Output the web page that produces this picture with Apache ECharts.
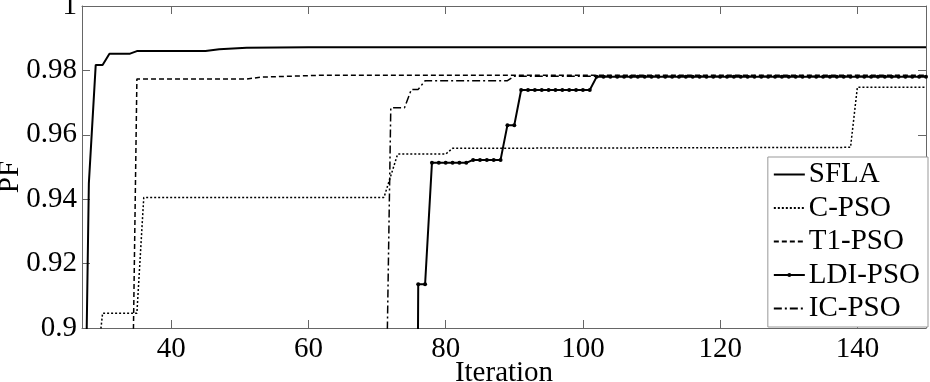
<!DOCTYPE html>
<html>
<head>
<meta charset="utf-8">
<script src="https://cdn.jsdelivr.net/npm/echarts@6/dist/echarts.min.js"></script>
<style>
html, body { margin: 0; padding: 0; background: #fff; }
#chartDiv { width: 930px; height: 382px; }
</style>
</head>
<body>
<div id="chartDiv"></div>
<script>
var xTicks = [40, 60, 80, 100, 120, 140];

// [iteration, PF] break points
var sfla = [[27, 0.80], [28, 0.945], [29, 0.9817], [30, 0.9817], [31, 0.9852], [34, 0.9852], [35, 0.986],
	[45, 0.986], [47, 0.9866], [51, 0.9870], [60, 0.9872], [150, 0.9872]];
var cpso = [[29, 0.885], [30, 0.9046], [35, 0.9046], [36, 0.9405], [71, 0.9405], [73, 0.954], [80, 0.954],
	[81, 0.9558], [139, 0.9561], [140, 0.9748], [150, 0.9748]];
var t1pso = [[34, 0.8227], [35, 0.9773], [51, 0.9773], [53, 0.9779], [62, 0.9785], [150, 0.9785]];
var icpso = [[71, 0.83], [72, 0.9684], [74, 0.9684], [75, 0.9741], [76, 0.9741], [77, 0.9768], [89, 0.9768],
	[90, 0.9782], [150, 0.9782]];

// LDI-PSO, one value per iteration from 75 to 150
var ldiStart = 75;
var ldiPF = [
	0.5, 0.9136, 0.9136,
	0.9513, 0.9513, 0.9513, 0.9513, 0.9513, 0.9513,
	0.9522, 0.9522, 0.9522, 0.9522, 0.9522,
	0.9630, 0.9630,
	0.9739, 0.9739, 0.9739, 0.9739, 0.9739, 0.9739, 0.9739, 0.9739, 0.9739, 0.9739, 0.9739,
	0.978, 0.978, 0.978, 0.978, 0.978, 0.978, 0.978, 0.978, 0.978, 0.978,
	0.978, 0.978, 0.978, 0.978, 0.978, 0.978, 0.978, 0.978, 0.978, 0.978,
	0.978, 0.978, 0.978, 0.978, 0.978, 0.978, 0.978, 0.978, 0.978, 0.978,
	0.978, 0.978, 0.978, 0.978, 0.978, 0.978, 0.978, 0.978, 0.978, 0.978,
	0.978, 0.978, 0.978, 0.978, 0.978, 0.978, 0.978, 0.978, 0.978
];

var ldi = [];
for (var i = 0; i < ldiPF.length; i++) {
	ldi.push([ldiStart + i, ldiPF[i]]);
}

var font = 'Liberation Serif';
var axisColor = '#666';

var chart = echarts.init(document.getElementById('chartDiv'));

function boxAxis(pos) {
	return {
		type : 'value',
		position : pos,
		min : 27,
		max : 150,
		axisLine : { show : true, lineStyle : { color : axisColor, width : 1 } },
		axisTick : { show : true, inside : true, length : 8, customValues : xTicks, lineStyle : { color : axisColor } },
		axisLabel : { show : false, customValues : xTicks },
		splitLine : { show : false }
	};
}

var xBottom = boxAxis('bottom');
xBottom.axisLabel = { show : true, customValues : xTicks, margin : 7, color : '#000', fontFamily : font, fontSize : 29 };
xBottom.name = 'Iteration';
xBottom.nameLocation = 'middle';
xBottom.nameGap = 31;
xBottom.nameMoveOverlap = false;
xBottom.nameTextStyle = { color : '#000', fontFamily : font, fontSize : 29 };
var xTop = boxAxis('top');

function yBox(pos) {
	return {
		type : 'value',
		position : pos,
		min : 0.9,
		max : 1,
		interval : 0.02,
		axisLine : { show : true, lineStyle : { color : axisColor, width : 1 } },
		axisTick : { show : true, inside : true, length : 8, lineStyle : { color : axisColor } },
		axisLabel : { show : false },
		splitLine : { show : false }
	};
}
var yLeft = yBox('left');
yLeft.axisLabel = { show : true, margin : 5, color : '#000', fontFamily : font, fontSize : 29 };
yLeft.name = 'PF';
yLeft.nameLocation = 'middle';
yLeft.nameGap = 57;
yLeft.nameMoveOverlap = false;
yLeft.nameTextStyle = { color : '#000', fontFamily : font, fontSize : 29, padding : [0, 20, 0, 0] };
var yRight = yBox('right');

function lineSeries(name, data, width, type) {
	return {
		name : name,
		type : 'line',
		data : data,
		symbol : 'none',
		animation : false,
		lineStyle : { color : '#000', width : width, type : type },
		itemStyle : { color : '#000' }
	};
}

var ldiSeries = lineSeries('LDI-PSO', ldi, 2, 'solid');
ldiSeries.symbol = 'circle';
ldiSeries.symbolSize = 4;
ldiSeries.showAllSymbol = true;

var noDot = { color : 'transparent' };

chart.setOption({
	backgroundColor : '#fff',
	animation : false,
	grid : { left : 82, right : 4, top : 6, bottom : 54, outerBoundsMode : 'none', containLabel : false },
	xAxis : [xBottom, xTop],
	yAxis : [yLeft, yRight],
	legend : {
		orient : 'vertical',
		right : 2,
		top : 157,
		padding : [3, 8, 4, 5],
		itemWidth : 31,
		itemHeight : 5,
		itemGap : 4.5,
		borderColor : '#999',
		borderWidth : 1,
		borderRadius : 0,
		backgroundColor : '#fff',
		textStyle : { color : '#000', fontFamily : font, fontSize : 29, lineHeight : 29, padding : [0, 0, 0, -1] },
		data : [
			{ name : 'SFLA', itemStyle : noDot },
			{ name : 'C-PSO', itemStyle : noDot },
			{ name : 'T1-PSO', itemStyle : noDot },
			{ name : 'LDI-PSO' },
			{ name : 'IC-PSO', itemStyle : noDot }
		]
	},
	series : [
		lineSeries('SFLA', sfla, 2, 'solid'),
		lineSeries('C-PSO', cpso, 1.5, [2, 2]),
		lineSeries('T1-PSO', t1pso, 1.5, [5, 3]),
		ldiSeries,
		lineSeries('IC-PSO', icpso, 1.5, [8, 3, 2, 3])
	]
});
</script>
</body>
</html>
